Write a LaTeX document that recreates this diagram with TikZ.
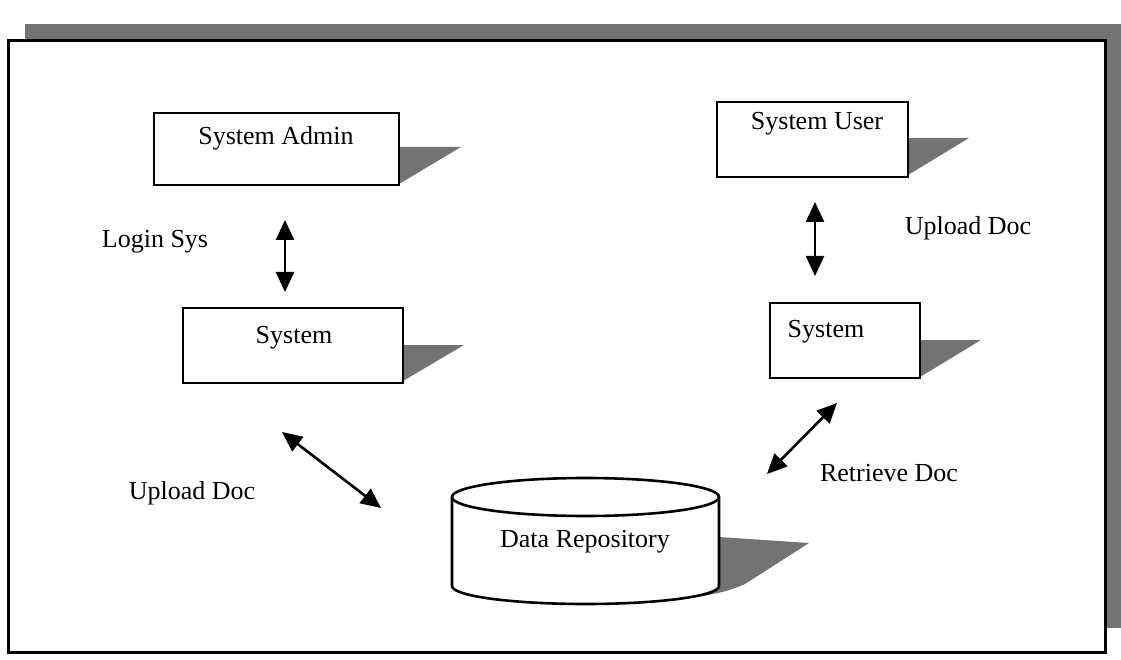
\documentclass[tikz,border=0pt]{standalone}
\usepackage{fontspec}
\setmainfont{Liberation Serif}
\usetikzlibrary{arrows.meta}
\tikzset{
  shade fill/.style={fill=black!55, draw=none},
  boxline/.style={draw=black, line width=2.6pt, fill=white},
  lbl/.style={font=\fontsize{26}{30}\selectfont, inner sep=0pt},
  link/.style={line width=2.6pt, {Triangle[length=20pt,width=18pt]}-{Triangle[length=20pt,width=18pt]}},
}
\begin{document}
\begin{tikzpicture}[x=1pt, y=-1pt]
\useasboundingbox (0,0) rectangle (1121,660);
\fill[white] (0,0) rectangle (1121,660);

% frame with its drop shadow
\fill[shade fill] (25,24) rectangle (1121,628);
\draw[boxline, line width=3pt] (8,41) rectangle (1105,652);

% box shadows
\fill[shade fill] (399,147) -- (461,147) -- (399,184) -- cycle;
\fill[shade fill] (908,138) -- (969,138) -- (908,175) -- cycle;
\fill[shade fill] (403,345) -- (464,345) -- (403,381) -- cycle;
\fill[shade fill] (920,340) -- (981,340) -- (920,377) -- cycle;
\fill[shade fill] (719,537) -- (809,543) -- (745,584) .. controls (725,593) and (705,596) .. (688,598) -- (719,585) -- cycle;

% boxes
\node[boxline, minimum width=245pt, minimum height=72pt, inner sep=0pt] (admin) at (276.5,149) {};
\node[boxline, minimum width=191pt, minimum height=75pt, inner sep=0pt] (user) at (812.5,139.5) {};
\node[boxline, minimum width=220pt, minimum height=75pt, inner sep=0pt] (sysL) at (293,345.5) {};
\node[boxline, minimum width=150pt, minimum height=75pt, inner sep=0pt] (sysR) at (845,340.5) {};

\node[lbl] (tadmin) at (276,138) {System Admin};
\node[lbl] (tuser) at (817,124) {System User};
\node[lbl] (tsysL) at (294,338) {System};
\node[lbl] (tsysR) at (826,332) {System};

% data repository cylinder (y axis points down, so arcs through 90 bulge downward)
\draw[line width=2.6pt, fill=white]
  (452,497) -- (452,586) arc[start angle=180, end angle=0, x radius=133.5, y radius=18]
  -- (719,497) arc[start angle=0, end angle=-180, x radius=133.5, y radius=19] -- cycle;
\draw[line width=2.6pt] (452,497) arc[start angle=180, end angle=0, x radius=133.5, y radius=19];
\node[lbl] (repo) at (585,542) {Data Repository};

% connectors
\coordinate (a1) at (285,220);
\coordinate (a2) at (285,292);
\coordinate (b1) at (815,202);
\coordinate (b2) at (815,276);
\coordinate (c1) at (282,432);
\coordinate (c2) at (381,508);
\coordinate (d1) at (837,403);
\coordinate (d2) at (767,474);
\draw[link] (a1) -- (a2);
\draw[link] (b1) -- (b2);
\draw[link] (c1) -- (c2);
\draw[link] (d1) -- (d2);

% connector labels
\node[lbl] (login) at (155,242) {Login Sys};
\node[lbl] (upR) at (968,228) {Upload Doc};
\node[lbl] (upL) at (192,493) {Upload Doc};
\node[lbl] (retr) at (889,473) {Retrieve Doc};
\end{tikzpicture}
\end{document}
